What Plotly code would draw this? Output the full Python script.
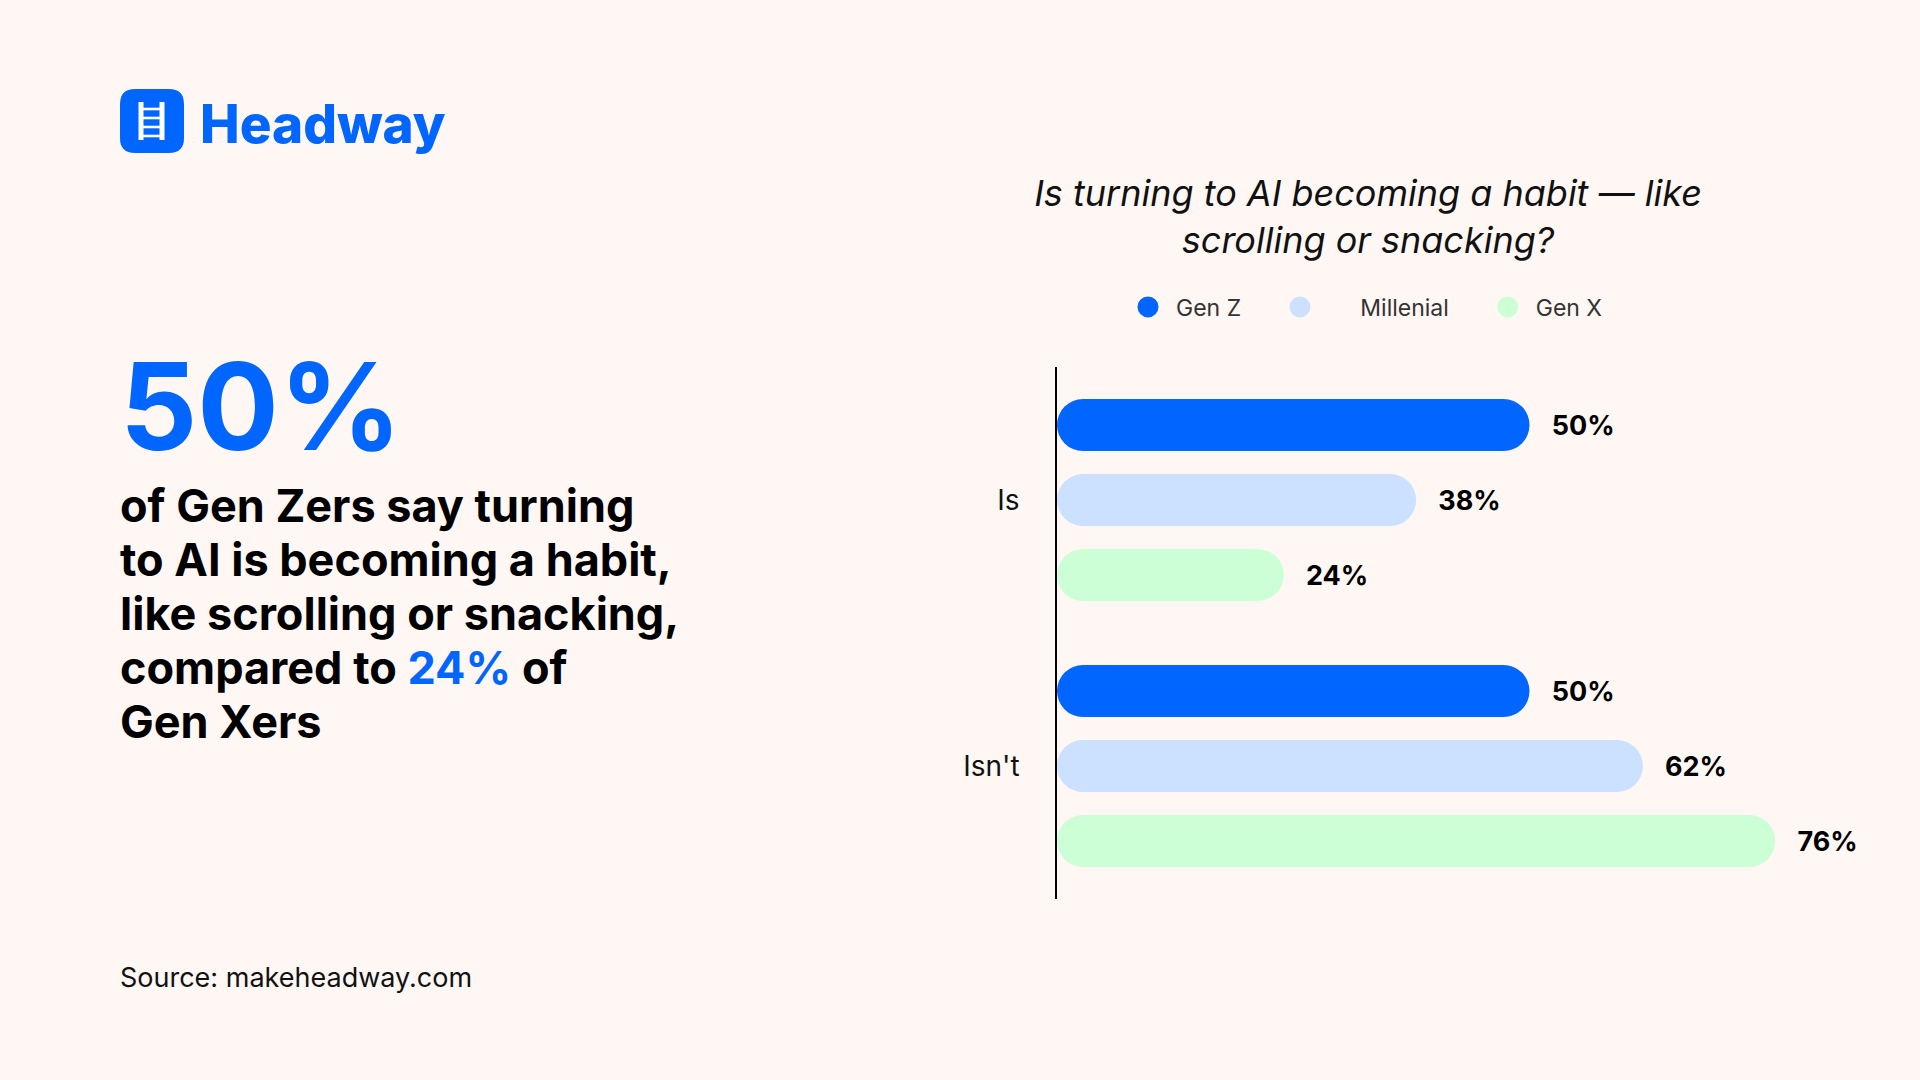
import plotly.graph_objects as go

# ---------------- data ----------------
categories = ["Is", "Isn't"]
series_names = ["Gen Z", "Millenial", "Gen X"]
gen_z = [50, 50]
millenial = [38, 62]
gen_x = [24, 76]
series_values = [gen_z, millenial, gen_x]
series_colors = ["#0066FF", "#CCE0FF", "#CCFFD5"]

title_text = "Is turning to AI becoming a habit — like<br>scrolling or snacking?"
headline = "50%"
body_lines = [
    "of Gen Zers say turning",
    "to AI is becoming a habit,",
    "like scrolling or snacking,",
    "compared to <span style='color:#0066FF'>24%</span> of",
    "Gen Xers",
]
source_text = "Source: makeheadway.com"

# ---------------- layout geometry ----------------
W, H = 1920, 1080
L, R, T, B = 1057, 60, 367, 181
PW, PH = W - L - R, H - T - B
PX_PER_PCT = 9.45
BG = "#FEF7F4"
BLUE = "#0066FF"
FONT = "Inter"
NB = "\u00a0"
SPLIT = 0.1  # each pill = two overlapping bars, one rounded at each end


def px(x):
    return (x - L) / PW


def py(y):
    return (H - B - y) / PH


fig = go.Figure()

for name, vals, col in zip(series_names, series_values, series_colors):
    # left part: runs from (1-SPLIT)*v back to 0, rounded at the zero end
    fig.add_trace(go.Bar(
        y=categories, x=[-v * (1 - SPLIT) for v in vals], base=[v * (1 - SPLIT) for v in vals],
        orientation="h", offsetgroup=name, showlegend=False, hoverinfo="skip",
        marker=dict(color=col, cornerradius=26, line=dict(width=0)),
    ))
    # right part: runs from SPLIT*v to v, rounded at the value end, carries the label
    fig.add_trace(go.Bar(
        y=categories, x=[v * (1 - SPLIT) for v in vals], base=[v * SPLIT for v in vals],
        orientation="h", offsetgroup=name, showlegend=False, name=name,
        marker=dict(color=col, cornerradius=26, line=dict(width=0)),
        text=[f"{v}%" for v in vals], texttemplate=NB * 3 + "%{text}",
        textposition="outside", constraintext="none", cliponaxis=False,
        textfont=dict(family=FONT, size=27, weight=700, color="#000000"),
        hovertemplate=name + ": %{text}<extra></extra>",
    ))

legend_labels = {"Gen Z": "Gen Z" + NB * 4,
                 "Millenial": NB * 5 + "Millenial" + NB * 4,
                 "Gen X": "Gen X"}
for name, col in zip(series_names, series_colors):
    fig.add_trace(go.Scatter(
        x=[None], y=[None], mode="markers", name=legend_labels[name],
        marker=dict(size=16, color=col, line=dict(width=5, color=col)),
    ))

# ---------------- logo shapes ----------------
shapes = []
x0, x1, y0, y1, r = 120, 184, 89, 153, 15
path = (f"M {px(x0 + r)},{py(y0)} L {px(x1 - r)},{py(y0)} Q {px(x1)},{py(y0)} {px(x1)},{py(y0 + r)} "
        f"L {px(x1)},{py(y1 - r)} Q {px(x1)},{py(y1)} {px(x1 - r)},{py(y1)} "
        f"L {px(x0 + r)},{py(y1)} Q {px(x0)},{py(y1)} {px(x0)},{py(y1 - r)} "
        f"L {px(x0)},{py(y0 + r)} Q {px(x0)},{py(y0)} {px(x0 + r)},{py(y0)} Z")
shapes.append(dict(type="path", path=path, xref="paper", yref="paper",
                   fillcolor=BLUE, line=dict(width=0), layer="above"))
for rx in (141, 162):
    shapes.append(dict(type="rect", xref="paper", yref="paper",
                       x0=px(rx - 2.5), x1=px(rx + 2.5), y0=py(140), y1=py(102),
                       fillcolor="white", line=dict(width=0), layer="above"))
for ry in (109, 118, 127, 136):
    shapes.append(dict(type="rect", xref="paper", yref="paper",
                       x0=px(141), x1=px(162), y0=py(ry + 1.3), y1=py(ry - 1.3),
                       fillcolor="white", line=dict(width=0), layer="above"))

annotations = [
    dict(text="Headway", x=px(198), y=py(124), xref="paper", yref="paper",
         xanchor="left", yanchor="middle", showarrow=False,
         font=dict(family=FONT, size=53, weight=800, color=BLUE)),
    dict(text=headline, x=px(118), y=py(406), xref="paper", yref="paper",
         xanchor="left", yanchor="middle", showarrow=False,
         font=dict(family=FONT, size=121, weight=700, color=BLUE)),
    dict(text=source_text, x=px(118), y=py(977), xref="paper", yref="paper",
         xanchor="left", yanchor="middle", showarrow=False,
         font=dict(family=FONT, size=27, color="#111111")),
]
line_centers = [506, 560, 614, 668, 722]
for txt, yc in zip(body_lines, line_centers):
    annotations.append(dict(text=txt, x=px(118), y=py(yc - 1), xref="paper", yref="paper",
                            xanchor="left", yanchor="middle", align="left", showarrow=False,
                            font=dict(family=FONT, size=45, weight=700, color="#000000")))

fig.update_layout(
    width=W, height=H, autosize=False,
    margin=dict(l=L, r=R, t=T, b=B, pad=0),
    paper_bgcolor=BG, plot_bgcolor=BG,
    barmode="group", bargap=41 / 266, bargroupgap=23 / 75,
    title=dict(text=title_text, xref="container", yref="container",
               x=1368 / W, y=1 - 206 / H, xanchor="center", yanchor="middle",
               font=dict(family=FONT, size=36, style="italic", color="#111111")),
    legend=dict(orientation="h", xref="container", yref="container",
                x=1364 / W, y=1 - 307 / H, xanchor="center", yanchor="middle",
                font=dict(family=FONT, size=23, color="#333333"),
                itemwidth=46, bgcolor="rgba(0,0,0,0)", traceorder="normal"),
    xaxis=dict(range=[0, PW / PX_PER_PCT], visible=False, showgrid=False, zeroline=False),
    yaxis=dict(type="category", autorange="reversed", showline=True, linecolor="#000000",
               linewidth=1.5, ticks="", showgrid=False, zeroline=False,
               ticklabelstandoff=30,
               tickfont=dict(family=FONT, size=28, color="#111111")),
    shapes=shapes, annotations=annotations,
    showlegend=True, hovermode="closest",
)

fig.write_html("out.html")
